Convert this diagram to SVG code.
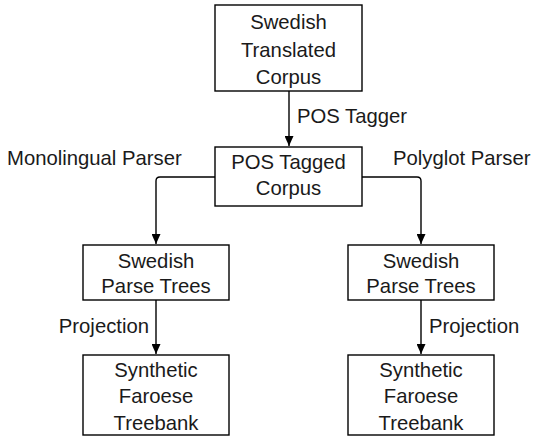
<svg xmlns="http://www.w3.org/2000/svg" width="534" height="436" viewBox="0 0 534 436">
  <style>
    .box { fill: #ffffff; stroke: #000000; stroke-width: 1.4; }
    .t { font-family: "Liberation Sans", Arial, sans-serif; font-size: 20.3px; fill: #1a1a1a; }
    .c { text-anchor: middle; }
    .edge { fill: none; stroke: #000000; stroke-width: 1.4; marker-end: url(#arrow); }
  </style>
  <defs>
    <marker id="arrow" markerUnits="userSpaceOnUse" markerWidth="11" markerHeight="9" refX="10" refY="4.5" orient="auto">
      <path d="M0,0 L10,4.5 L0,9 z" fill="#000000"/>
    </marker>
  </defs>
  <rect width="534" height="436" fill="#ffffff"/>

  <g id="connectors">
    <path class="edge" d="M289,91 L289,146"/>
    <path class="edge" d="M215,177 L160,177 Q156,177 156,181 L156,244"/>
    <path class="edge" d="M362,177 L417,177 Q421,177 421,181 L421,244"/>
    <path class="edge" d="M156,300 L156,354"/>
    <path class="edge" d="M421,300 L421,354"/>
    <text class="t" x="297" y="123">POS Tagger</text>
    <text class="t" x="7" y="165">Monolingual Parser</text>
    <text class="t" x="393" y="165">Polyglot Parser</text>
    <text class="t" x="149" y="333" text-anchor="end">Projection</text>
    <text class="t" x="429" y="333">Projection</text>
  </g>

  <g id="swedish-translated-corpus">
    <rect class="box" x="215" y="5" width="147" height="86"/>
    <text class="t c" x="288.5" y="29">Swedish</text>
    <text class="t c" x="288.5" y="56.5">Translated</text>
    <text class="t c" x="288.5" y="84">Corpus</text>
  </g>

  <g id="pos-tagged-corpus">
    <rect class="box" x="215" y="147" width="147" height="59"/>
    <text class="t c" x="288.5" y="169">POS Tagged</text>
    <text class="t c" x="288.5" y="195">Corpus</text>
  </g>

  <g id="swedish-parse-trees-left">
    <rect class="box" x="83" y="245" width="146" height="55"/>
    <text class="t c" x="156" y="268">Swedish</text>
    <text class="t c" x="156" y="293">Parse Trees</text>
  </g>

  <g id="swedish-parse-trees-right">
    <rect class="box" x="348" y="245" width="146" height="55"/>
    <text class="t c" x="421" y="268">Swedish</text>
    <text class="t c" x="421" y="293">Parse Trees</text>
  </g>

  <g id="synthetic-faroese-treebank-left">
    <rect class="box" x="83" y="355" width="146" height="80"/>
    <text class="t c" x="156" y="377">Synthetic</text>
    <text class="t c" x="156" y="403">Faroese</text>
    <text class="t c" x="156" y="430">Treebank</text>
  </g>

  <g id="synthetic-faroese-treebank-right">
    <rect class="box" x="348" y="355" width="146" height="80"/>
    <text class="t c" x="421" y="377">Synthetic</text>
    <text class="t c" x="421" y="403">Faroese</text>
    <text class="t c" x="421" y="430">Treebank</text>
  </g>
</svg>
